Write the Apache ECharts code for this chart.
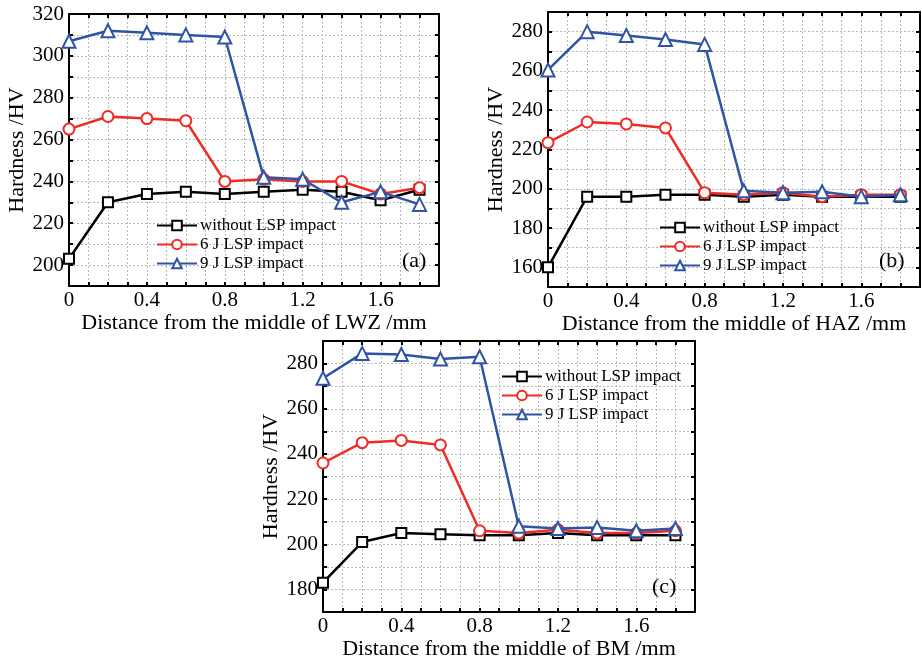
<!DOCTYPE html>
<html>
<head>
<meta charset="utf-8">
<script src="https://cdn.jsdelivr.net/npm/echarts@6/dist/echarts.min.js"></script>
<style>html,body{margin:0;padding:0;background:#fff;}#c{width:922px;height:661px;}</style>
</head>
<body>
<div id="c"></div>
<script>
// ---- data ----
const distance = [0, 0.2, 0.4, 0.6, 0.8, 1.0, 1.2, 1.4, 1.6, 1.8];
const seriesNames = ['without LSP impact', '6 J LSP impact', '9 J LSP impact'];

const lwzWithout = [203, 230, 234, 235, 234, 235, 236, 235, 231, 236];
const lwz6J      = [265, 271, 270, 269, 240, 241, 240, 240, 234, 237];
const lwz9J      = [307, 312, 311, 310, 309, 242, 241, 230, 235, 229];

const hazWithout = [160, 196, 196, 197, 197, 196, 197, 196, 196, 196];
const haz6J      = [223.5, 234, 233, 231, 198, 197, 198, 196, 197, 197];
const haz9J      = [260.5, 280, 278, 276, 273.5, 199, 198, 198.5, 196, 197];

const bmWithout  = [183, 201, 205, 204.5, 204, 204, 205, 204, 204, 204];
const bm6J       = [236, 245, 246, 244, 206, 205, 206.5, 205, 205, 206];
const bm9J       = [273.5, 284.5, 284, 282, 283, 208, 207, 207.5, 206, 207];

const xAxisNames = ['Distance from the middle of LWZ /mm', 'Distance from the middle of HAZ /mm', 'Distance from the middle of BM /mm'];
const yAxisName = 'Hardness /HV';
const panelLabels = ['(a)', '(b)', '(c)'];
const yRanges = [[190, 320], [150, 290], [170, 290]];
const xRange = [0, 1.9];

// ---- styles ----
const FONT = 'Liberation Serif';
const colors = ['#000000', '#ee2b25', '#2f54a5'];
const symbols = ['emptyRect', 'emptyCircle', 'emptyTriangle'];
const symbolSizes = [10, 11, 13];

const grids = [
  {left: 69, top: 14, width: 370, height: 272},
  {left: 548, top: 12, width: 372, height: 275},
  {left: 323, top: 341, width: 372, height: 275}
];
const legendPos = [
  {left: 151, top: 212},
  {left: 654, top: 214},
  {left: 496, top: 363}
];
const panelPos = [[402, 250], [879, 250], [652, 576]];

const dataSets = [
  [lwzWithout, lwz6J, lwz9J],
  [hazWithout, haz6J, haz9J],
  [bmWithout, bm6J, bm9J]
];

const gridLine = {show: true, lineStyle: {color: '#b8b8b8', width: 1, type: [2, 2]}};
const axLine = {show: true, onZero: false, lineStyle: {color: '#000', width: 2}};
const tick = {show: true, inside: true, length: 4, lineStyle: {color: '#000', width: 2}};

function fmtX(v) {
  const r = v / 0.4;
  if (Math.abs(r - Math.round(r)) > 1e-6) return '';
  if (Math.abs(v) < 1e-9) return '0';
  return v.toFixed(1);
}
function fmtY(v) {
  return (Math.round(v) % 20 === 0) ? String(Math.round(v)) : '';
}

const xAxes = [], yAxes = [], series = [], legends = [], graphics = [];
grids.forEach((g, i) => {
  xAxes.push({
    type: 'value', gridIndex: i, position: 'bottom', min: xRange[0], max: xRange[1], interval: 0.1,
    axisLine: axLine, axisTick: tick, splitLine: gridLine,
    axisLabel: {show: true, formatter: fmtX, color: '#000', fontFamily: FONT, fontSize: 21, margin: 4, showMaxLabel: false},
    name: xAxisNames[i], nameLocation: 'middle', nameGap: 23,
    nameTextStyle: {color: '#000', fontFamily: FONT, fontSize: 22}
  });
  xAxes.push({
    type: 'value', gridIndex: i, position: 'top', min: xRange[0], max: xRange[1], interval: 0.1,
    axisLine: axLine, axisTick: tick, splitLine: {show: false}, axisLabel: {show: false}
  });
  yAxes.push({
    type: 'value', gridIndex: i, position: 'left', min: yRanges[i][0], max: yRanges[i][1], interval: 10,
    axisLine: axLine, axisTick: tick, splitLine: gridLine,
    axisLabel: {show: true, formatter: fmtY, color: '#000', fontFamily: FONT, fontSize: 21, margin: 5},
    name: yAxisName, nameLocation: 'middle', nameGap: 40, nameRotate: 90,
    nameTextStyle: {color: '#000', fontFamily: FONT, fontSize: 22}
  });
  yAxes.push({
    type: 'value', gridIndex: i, position: 'right', min: yRanges[i][0], max: yRanges[i][1], interval: 10,
    axisLine: axLine, axisTick: tick, splitLine: {show: false}, axisLabel: {show: false}
  });
  dataSets[i].forEach((vals, k) => {
    series.push({
      type: 'line', name: seriesNames[k], xAxisIndex: i * 2, yAxisIndex: i * 2,
      data: distance.map((d, j) => [d, vals[j]]),
      symbol: symbols[k], symbolSize: symbolSizes[k], showAllSymbol: true,
      lineStyle: {color: colors[k], width: 2.5},
      itemStyle: {color: colors[k], borderWidth: 1.5},
      z: 2 + k, animation: false, clip: true
    });
  });
  legends.push({
    data: seriesNames, orient: 'vertical', left: legendPos[i].left, top: legendPos[i].top,
    itemWidth: 40, itemHeight: 12, itemGap: 2, selectedMode: false,
    textStyle: {color: '#000', fontFamily: FONT, fontSize: 17, padding: [0, 0, 0, -2]},
    backgroundColor: 'rgba(255,255,255,0)'
  });
  graphics.push({
    type: 'text', left: panelPos[i][0], top: panelPos[i][1], z: 10,
    style: {text: panelLabels[i], fill: '#000', font: '22px "' + FONT + '"'}
  });
});

const chart = echarts.init(document.getElementById('c'), null, {renderer: 'canvas'});
chart.setOption({
  backgroundColor: '#fff',
  animation: false,
  grid: grids.map(g => Object.assign({containLabel: false}, g)),
  xAxis: xAxes,
  yAxis: yAxes,
  legend: legends,
  graphic: graphics,
  series: series
});
</script>
</body>
</html>
